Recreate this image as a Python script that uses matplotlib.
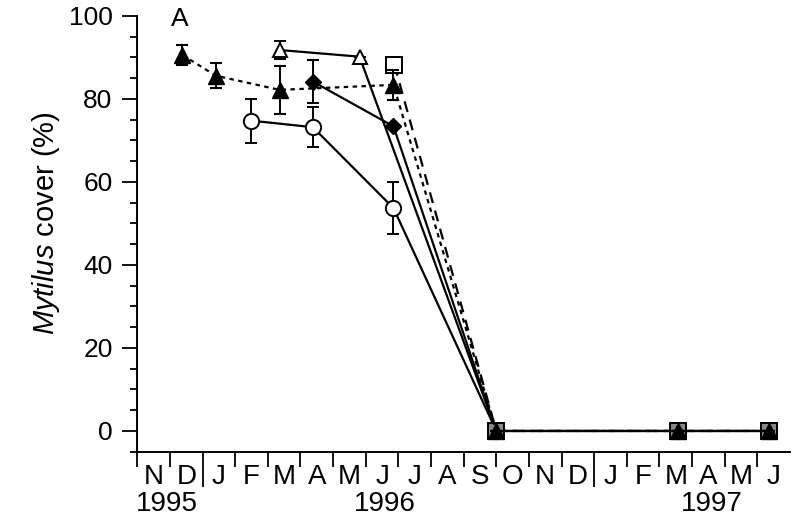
import matplotlib
matplotlib.use('Agg')
import matplotlib.pyplot as plt
from matplotlib.ticker import FixedLocator, MultipleLocator

plt.rcParams['font.family'] = ['Liberation Sans', 'DejaVu Sans']
plt.rcParams['mathtext.fontset'] = 'custom'
plt.rcParams['mathtext.it'] = 'Liberation Sans:italic'
plt.rcParams['mathtext.rm'] = 'Liberation Sans'

# x positions in months from 1 Nov 1995
months = ['N', 'D', 'J', 'F', 'M', 'A', 'M', 'J', 'J', 'A', 'S', 'O', 'N', 'D', 'J', 'F', 'M', 'A', 'M', 'J']
years = ['1995', '1996', '1997']
year_x = [0.9, 7.58, 17.6]
year_breaks = [2, 14]

# filled triangles (dotted)
tri_x = [1.38, 2.41, 4.36, 7.85, 11.0, 16.57, 19.35]
tri_y = [90.6, 85.6, 82.2, 83.4, 0, 0, 0]
tri_err = [2.5, 3.0, 5.7, 3.6, 0, 0, 0]

# open squares (dashed)
sq_x = [7.88, 11.0, 16.57, 19.35]
sq_y = [88.2, 0, 0, 0]

# open triangles (solid)
otri_x = [4.36, 6.81, 11.0]
otri_y = [91.8, 90.2, 0]
otri_err = [2.2, 0, 0]

# diamonds (solid)
dia_x = [5.38, 7.85, 11.0]
dia_y = [84.2, 73.4, 0]
dia_err = [5.2, 0, 0]

# open circles (solid)
circ_x = [3.47, 5.38, 7.85, 11.0, 16.57, 19.35]
circ_y = [74.8, 73.2, 53.7, 0, 0, 0]
circ_err = [5.3, 4.8, 6.2, 0, 0, 0]

fig = plt.figure(figsize=(8.01, 5.21), dpi=100)
ax = fig.add_axes([137.3 / 801, (521 - 451.7) / 521, (790 - 137.3) / 801, (451.7 - 16) / 521])

lw = 1.6
ebkw = dict(ecolor='k', elinewidth=1.4, capsize=4.5, capthick=1.5)

ax.errorbar(circ_x, circ_y, yerr=circ_err, color='k', lw=lw, marker='o', ms=11,
            mfc='white', mec='k', mew=1.4, zorder=3, **ebkw)
ax.errorbar(dia_x, dia_y, yerr=dia_err, color='k', lw=lw, marker='D', ms=7.8,
            mfc='k', mec='k', zorder=4, **ebkw)
ax.errorbar(otri_x, otri_y, yerr=otri_err, color='k', lw=lw, marker='^', ms=10.5,
            mfc='white', mec='k', mew=1.4, zorder=4, **ebkw)
ax.plot(sq_x, sq_y, color='k', lw=lw, ls=(0, (5, 3.5)), marker='s', ms=11,
        mfc='#888888', mec='k', mew=1.4, zorder=5)
ax.plot(sq_x[:1], sq_y[:1], ls='none', marker='s', ms=11, mfc='white', mec='k', mew=1.4, zorder=5)
ax.errorbar(tri_x, tri_y, yerr=tri_err, color='k', lw=lw, ls=(0, (2, 2)), marker='^', ms=11.5,
            mfc='k', mec='k', zorder=6, **ebkw)
# solid line along the zero values
ax.plot(circ_x[3:], circ_y[3:], color='k', lw=lw, zorder=7)

ax.set_xlim(0, 20)
ax.set_ylim(-5, 100)

for s in ['top', 'right']:
    ax.spines[s].set_visible(False)
for s in ['left', 'bottom']:
    ax.spines[s].set_linewidth(1.4)

ax.yaxis.set_major_locator(MultipleLocator(20))
ax.yaxis.set_minor_locator(MultipleLocator(5))
ax.tick_params(axis='y', which='major', direction='out', length=10.8, width=1.3, pad=7, labelsize=19)
ax.tick_params(axis='y', which='minor', direction='out', length=5.4, width=1.3)

ax.xaxis.set_major_locator(FixedLocator([i for i in range(20) if i not in year_breaks]))
ax.xaxis.set_minor_locator(FixedLocator(year_breaks))
ax.tick_params(axis='x', which='major', direction='out', length=10.8, width=1.3, labelbottom=False)
ax.tick_params(axis='x', which='minor', direction='out', length=25, width=1.3, labelbottom=False)

trans = ax.get_xaxis_transform()
for i, m in enumerate(months):
    ax.text(i + 0.5, -0.0574, m, transform=trans, ha='center', va='center', fontsize=20)
for x, y in zip(year_x, years):
    ax.text(x, -0.1195, y, transform=trans, ha='center', va='center', fontsize=20)

ax.text(1.31, 99.2, 'A', ha='center', va='center', fontsize=19)

ax.set_ylabel(r'$\mathit{Mytilus}$ cover (%)', fontsize=21)
ax.yaxis.set_label_coords(-0.115, 0.525)

fig.savefig('out.png', dpi=100)
